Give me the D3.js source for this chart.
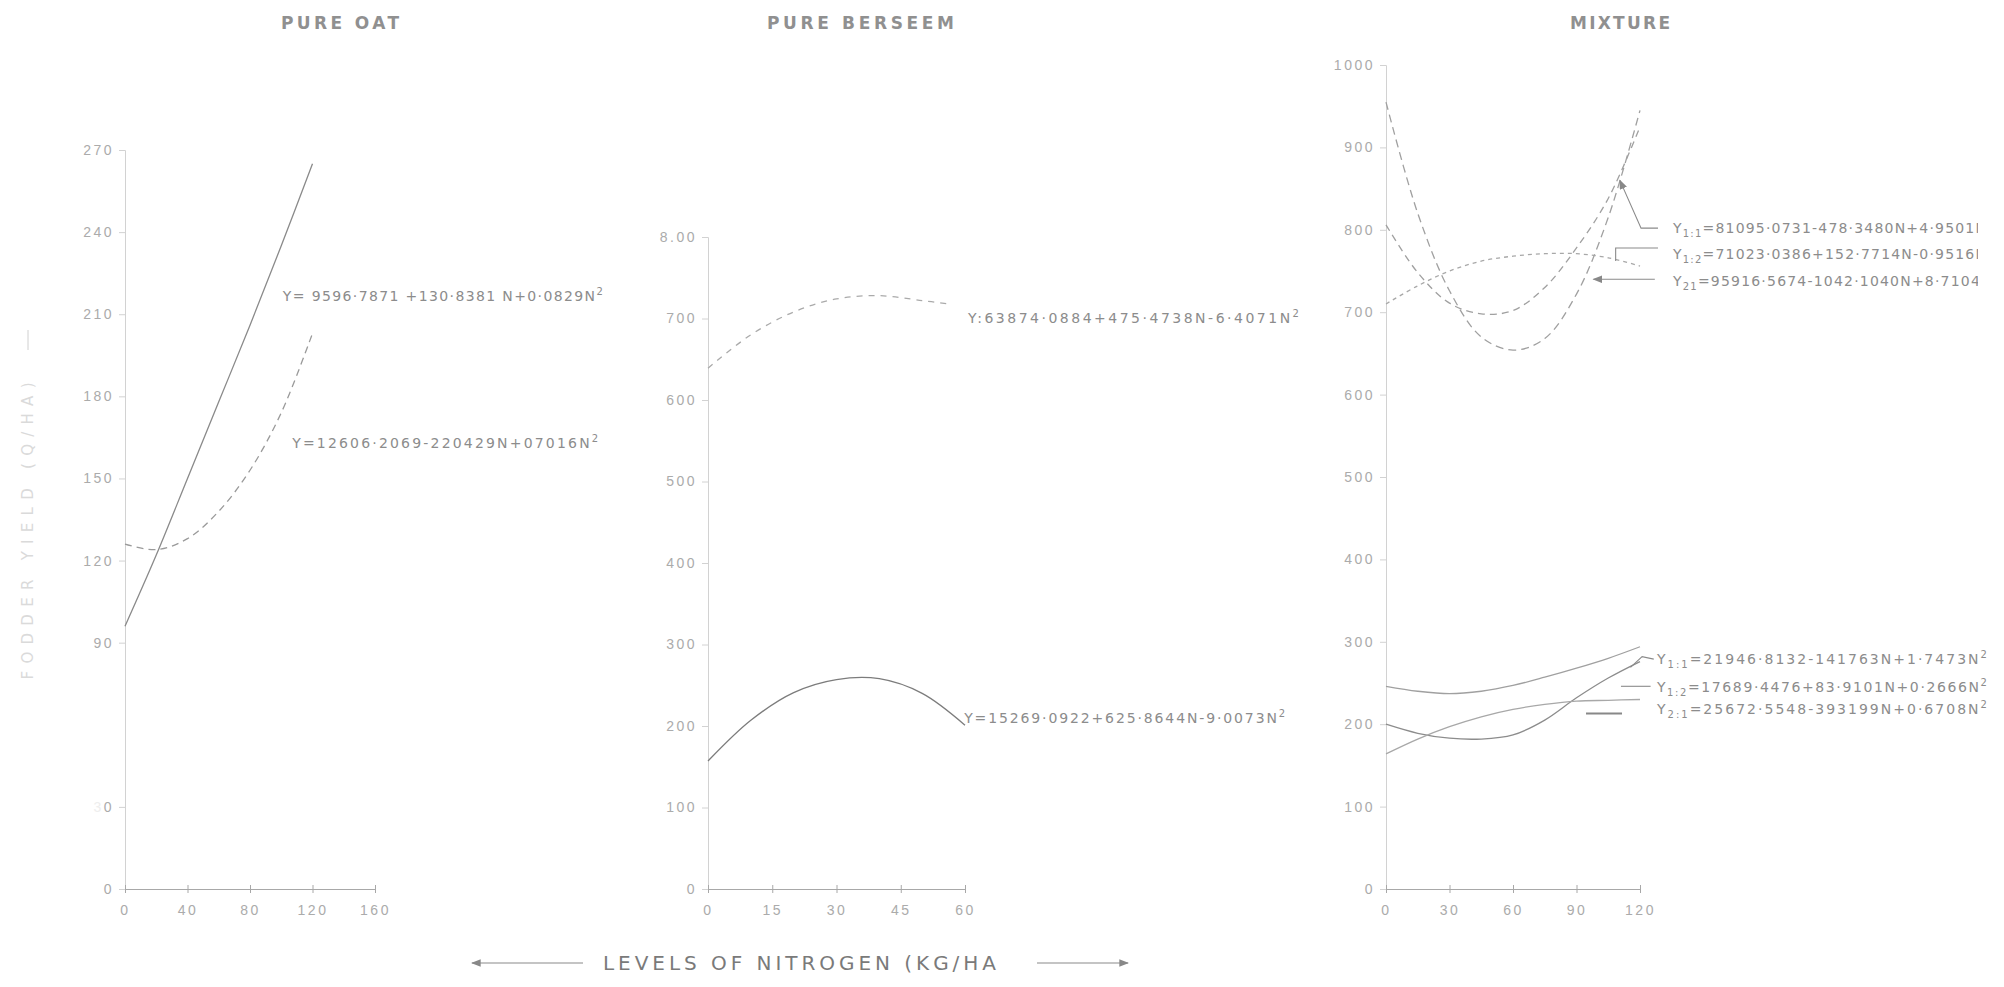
<!DOCTYPE html>
<html>
<head>
<meta charset="utf-8">
<script src="https://cdn.jsdelivr.net/npm/d3@7"></script>
<style>
  body { margin: 0; background: #fff; }
  svg { display: block; font-family: "DejaVu Sans", sans-serif; }
  .tick text { fill: #ababab; font-size: 14px; letter-spacing: 2.5px; }
  .y-axis .domain, .y-axis .tick line { stroke: #d2d2d2; }
  .x-axis .domain, .x-axis .tick line { stroke: #a8a8a8; }
  .title { fill: #909090; font-size: 17px; font-weight: bold; letter-spacing: 1px; }
  .eq { fill: #8c8c8c; font-size: 14px; }
  .curve { fill: none; stroke-width: 1.3; }
</style>
</head>
<body>
<div id="app"></div>
<script>
// ---- pure oat ----
const oatN = [0, 20, 40, 60, 80, 100, 120]
const oatSolid = [96, 122, 150, 178, 206, 235, 265]
const oatDashed = [126, 124, 128, 138, 153, 174, 203]
const oatYTicks = [0, 30, 90, 120, 150, 180, 210, 240, 270]
const oatXTicks = [0, 40, 80, 120, 160]

// ---- pure berseem ----
const berseemN = [0, 10, 20, 30, 40, 50, 60]
const berseemSolid = [157, 207, 241, 257, 258, 240, 201]
const berseemDashN = [0, 10, 20, 30, 40, 50, 56]
const berseemDashed = [639, 680, 708, 724, 728, 722, 718]
const berseemYTicks = [0, 100, 200, 300, 400, 500, 600, 700, 800]
const berseemYLabels = ['0', '100', '200', '300', '400', '500', '600', '700', '8.00']
const berseemXTicks = [0, 15, 30, 45, 60]

// ---- mixture ----
const mixN = [0, 15, 30, 45, 60, 75, 90, 105, 120]
const mixUp11 = [806, 748, 711, 698, 702, 730, 778, 838, 925]
const mixUp21 = [955, 820, 726, 670, 654, 668, 722, 815, 945]
const mixUp12 = [710, 732, 750, 762, 768, 771, 771, 766, 756]
const mixLow1 = [246, 240, 237, 240, 247, 257, 268, 280, 294]
const mixLow2 = [200, 189, 183, 182, 187, 205, 232, 256, 276]
const mixLow3 = [164, 182, 197, 209, 218, 224, 228, 229, 230]
const mixYTicks = [0, 100, 200, 300, 400, 500, 600, 700, 800, 900, 1000]
const mixXTicks = [0, 30, 60, 90, 120]

const W = 2004, H = 987

let svg = d3.select('#app').append('svg').attr('width', W).attr('height', H)
svg.append('rect').attr('width', W).attr('height', H).attr('fill', '#fff')

let defs = svg.append('defs')
defs.append('clipPath').attr('id', 'edge')
  .append('rect').attr('width', 1978).attr('height', H)
defs.append('marker')
  .attr('id', 'head').attr('viewBox', '0 0 10 8')
  .attr('refX', 9).attr('refY', 4)
  .attr('markerWidth', 9).attr('markerHeight', 7)
  .attr('orient', 'auto-start-reverse')
  .append('path').attr('d', 'M0,0L10,4L0,8z').attr('fill', '#888')

// scales for the three panels
const xOat = d3.scaleLinear().domain([0, 160]).range([125, 375])
const yOat = d3.scaleLinear().domain([0, 270]).range([889, 150])
const xBer = d3.scaleLinear().domain([0, 60]).range([708, 965])
const yBer = d3.scaleLinear().domain([0, 800]).range([889, 237])
const xMix = d3.scaleLinear().domain([0, 120]).range([1386, 1640])
const yMix = d3.scaleLinear().domain([0, 1000]).range([889, 65])

const drawAxes = (x, y, xTicks, yTicks, yLabels) => {
  let g = svg.append('g')
  g.append('g')
    .attr('class', 'y-axis')
    .attr('transform', `translate(${x(0)},0)`)
    .call(d3.axisLeft(y).tickValues(yTicks).tickSize(6).tickPadding(5)
      .tickFormat((d, i) => yLabels ? yLabels[i] : d))
  let xa = g.append('g')
    .attr('class', 'x-axis')
    .attr('transform', `translate(0,${y(0)})`)
    .call(d3.axisBottom(x).tickValues(xTicks).tickSize(4).tickPadding(12))
  xa.selectAll('.tick line').attr('y1', -4).attr('y2', 4)
  return g
}

const drawCurve = (x, y, ns, vals, color, dash) => {
  let line = d3.line()
    .x(d => x(d[0]))
    .y(d => y(d[1]))
    .curve(d3.curveCatmullRom)
  svg.append('path')
    .attr('class', 'curve')
    .attr('d', line(d3.zip(ns, vals)))
    .attr('stroke', color)
    .attr('stroke-dasharray', dash || null)
}

// equation text: _{..} subscript, ^{..} superscript
const drawEq = (px, py, str, len, opts = {}) => {
  let t = svg.append('text').attr('class', 'eq')
    .attr('x', px).attr('y', py).attr('dy', '0.35em')
  if (len) t.attr('textLength', len).attr('lengthAdjust', 'spacing')
  if (opts.fill) t.attr('fill', opts.fill)
  if (opts.spacing) t.attr('letter-spacing', opts.spacing)
  if (opts.clip) t.attr('clip-path', 'url(#edge)')
  str.split(/(_\{[^}]*\}|\^\{[^}]*\})/).filter(s => s).forEach(s => {
    if (s[0] === '_') {
      t.append('tspan').text(s.slice(2, -1)).attr('font-size', 10).attr('baseline-shift', '-4')
    } else if (s[0] === '^') {
      t.append('tspan').text(s.slice(2, -1)).attr('font-size', 10).attr('baseline-shift', '6')
    } else {
      t.append('tspan').text(s)
    }
  })
  return t
}

const leader = (pts, arrow) => {
  svg.append('path')
    .attr('d', d3.line()(pts))
    .attr('fill', 'none').attr('stroke', '#8a8a8a').attr('stroke-width', 1.1)
    .attr('marker-end', arrow ? 'url(#head)' : null)
}

// ---------- PURE OAT ----------
let oatAxes = drawAxes(xOat, yOat, oatXTicks, oatYTicks)
// the "3" of 30 has faded out in the scan
oatAxes.selectAll('.tick text').filter(d => d === 30)
  .text(null)
  .call(t => { t.append('tspan').attr('fill', '#eeeeee').text('3'); t.append('tspan').text('0') })
drawCurve(xOat, yOat, oatN, oatSolid, '#8a8a8a')
drawCurve(xOat, yOat, oatN, oatDashed, '#9a9a9a', '7,5')
drawEq(xOat(101), yOat(216.5), 'Y= 9596·7871 +130·8381 N+0·0829N^{2}', 320)
drawEq(xOat(107), yOat(163), 'Y=12606·2069-220429N+07016N^{2}', 306)

svg.append('text').attr('class', 'title')
  .attr('x', 281).attr('y', 29).attr('textLength', 119).text('PURE  OAT')

svg.append('text')
  .attr('transform', 'translate(33,531) rotate(-90)')
  .attr('text-anchor', 'middle')
  .attr('textLength', 297)
  .attr('font-size', 15).attr('fill', '#dadada')
  .text('FODDER YIELD (Q/HA)')
svg.append('line')
  .attr('x1', 28).attr('x2', 28).attr('y1', 350).attr('y2', 330)
  .attr('stroke', '#d0d0d0')

// ---------- PURE BERSEEM ----------
drawAxes(xBer, yBer, berseemXTicks, berseemYTicks, berseemYLabels)
drawCurve(xBer, yBer, berseemN, berseemSolid, '#7c7c7c')
drawCurve(xBer, yBer, berseemDashN, berseemDashed, '#aaaaaa', '6,6')
drawEq(xBer(60.7), yBer(700), 'Y:63874·0884+475·4738N-6·4071N^{2}', 331)
drawEq(xBer(59.8), yBer(210), 'Y=15269·0922+625·8644N-9·0073N^{2}', 321)

svg.append('text').attr('class', 'title')
  .attr('x', 767).attr('y', 29).attr('textLength', 188).text('PURE  BERSEEM')

// ---------- MIXTURE ----------
let mixAxes = drawAxes(xMix, yMix, mixXTicks, mixYTicks)
mixAxes.selectAll('.tick text').attr('fill', '#bdbdbd')
drawCurve(xMix, yMix, mixN, mixUp11, '#a0a0a0', '7,5')
drawCurve(xMix, yMix, mixN, mixUp21, '#a0a0a0', '8,5')
drawCurve(xMix, yMix, mixN, mixUp12, '#a8a8a8', '4,4')
drawCurve(xMix, yMix, mixN, mixLow1, '#a0a0a0')
drawCurve(xMix, yMix, mixN, mixLow2, '#8c8c8c')
drawCurve(xMix, yMix, mixN, mixLow3, '#a8a8a8')

drawEq(xMix(135.6), yMix(802), 'Y_{1:1}=81095·0731-478·3480N+4·9501N^{2}', null, { clip: true, spacing: 1.2, fill: '#7e7e7e' })
drawEq(xMix(135.6), yMix(770), 'Y_{1:2}=71023·0386+152·7714N-0·9516N^{2}', null, { clip: true, spacing: 1.2 })
drawEq(xMix(135.6), yMix(738), 'Y_{21}=95916·5674-1042·1040N+8·7104N^{2}', null, { clip: true, spacing: 1.2 })
leader([[xMix(128.5), yMix(802)], [xMix(120.5), yMix(802)], [xMix(110.5), yMix(860)]], true)
leader([[xMix(128.5), yMix(778)], [xMix(108.5), yMix(778)], [xMix(108.5), yMix(762)]])
leader([[xMix(127), yMix(740)], [xMix(98), yMix(740)]], true)

drawEq(xMix(128), yMix(279), 'Y_{1:1}=21946·8132-141763N+1·7473N^{2}', 330, { fill: '#c4c4c4' })
drawEq(xMix(128), yMix(245), 'Y_{1:2}=17689·4476+83·9101N+0·2666N^{2}', 330)
drawEq(xMix(128), yMix(218), 'Y_{2:1}=25672·5548-393199N+0·6708N^{2}', 330)
leader([[xMix(115.5), yMix(269)], [xMix(121), yMix(282)], [xMix(126.5), yMix(279)]])
leader([[xMix(111), yMix(246)], [xMix(125), yMix(246)]])
svg.append('path')
  .attr('d', d3.line()([[xMix(94.5), yMix(213)], [xMix(111.5), yMix(213)]]))
  .attr('stroke', '#888').attr('stroke-width', 2.2)

svg.append('text').attr('class', 'title')
  .attr('x', 1570).attr('y', 29).attr('textLength', 101).text('MIXTURE')

// ---------- common x title ----------
svg.append('text')
  .attr('x', 603).attr('y', 970)
  .attr('textLength', 393)
  .attr('font-size', 20).attr('fill', '#7a7a7a')
  .text('LEVELS  OF  NITROGEN  (KG/HA')
leader([[583, 963], [472, 963]], true)
leader([[1037, 963], [1128, 963]], true)
</script>
</body>
</html>
